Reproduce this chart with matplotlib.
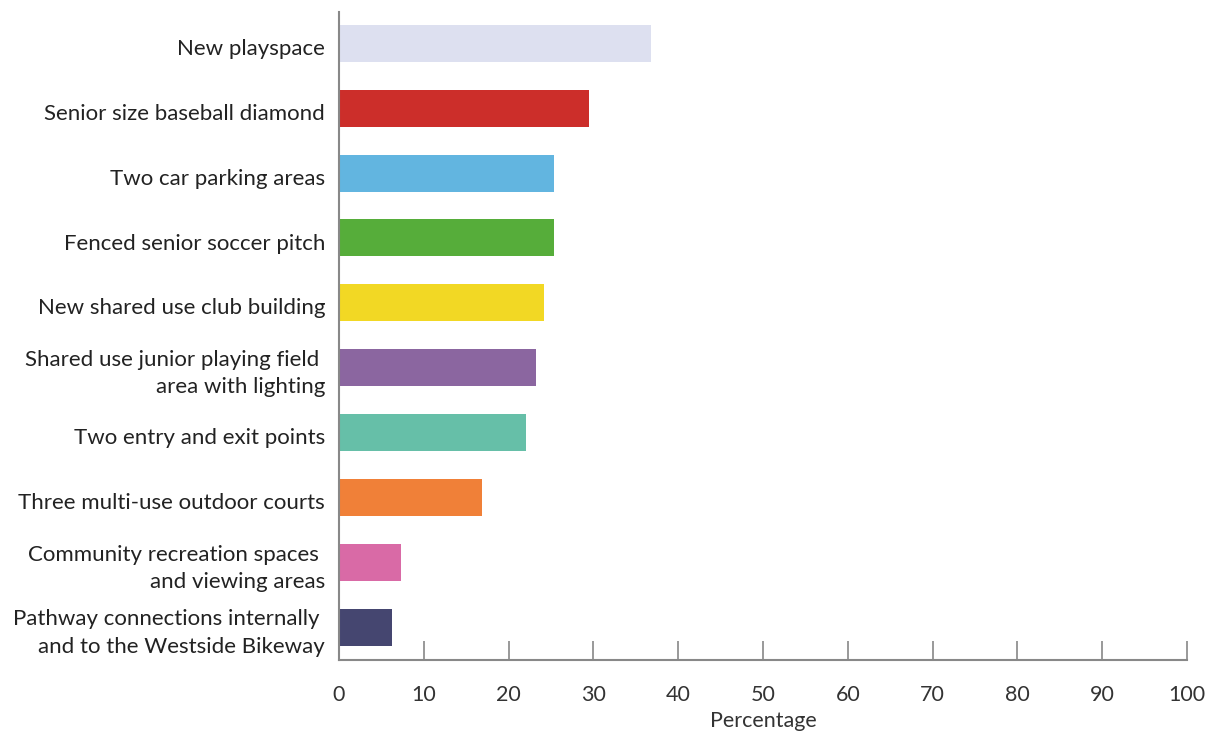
import matplotlib
matplotlib.use("Agg")
import matplotlib.pyplot as plt

categories = [
    "New playspace",
    "Senior size baseball diamond",
    "Two car parking areas",
    "Fenced senior soccer pitch",
    "New shared use club building",
    "Shared use junior playing field \narea with lighting",
    "Two entry and exit points",
    "Three multi-use outdoor courts",
    "Community recreation spaces \nand viewing areas",
    "Pathway connections internally \nand to the Westside Bikeway",
]
values = [36.8, 29.5, 25.3, 25.3, 24.2, 23.2, 22.1, 16.9, 7.3, 6.3]
colors = ["#dde0f0", "#cc2e2a", "#62b5e0", "#56ad3a", "#f2d824",
          "#8b66a0", "#66bfa8", "#f08038", "#d96aa6", "#454670"]
xticks = [0, 10, 20, 30, 40, 50, 60, 70, 80, 90, 100]

plt.rcParams['font.family'] = ['Lato', 'DejaVu Sans']

fig = plt.figure(figsize=(12.18, 7.32), dpi=100)
ax = fig.add_axes([339/1218, 1 - 660/732, (1187-339)/1218, (660-12)/732])

y = list(range(len(categories)))
ax.barh(y, values, height=0.57, color=colors)
ax.set_ylim(len(categories) - 0.5, -0.48)
ax.set_xlim(0, 100)
ax.set_yticks(y)
ax.set_yticklabels([])
for yi, cat in zip(y, categories):
    ax.annotate(cat, xy=(0, yi), xycoords=("axes fraction", "data"),
                xytext=(-10, -4), textcoords="offset points",
                ha="right", va="center", fontsize=16, color="#222222",
                linespacing=1.45, annotation_clip=False)
ax.set_xticks(xticks)
ax.set_xticklabels([str(t) for t in xticks], fontsize=15.5, color="#333333")
ax.tick_params(axis="y", length=0)
ax.tick_params(axis="x", direction="in", length=14, width=1.2, color="#888888", pad=18)
for s in ["top", "right"]:
    ax.spines[s].set_visible(False)
for s in ["left", "bottom"]:
    ax.spines[s].set_color("#888888")
    ax.spines[s].set_linewidth(1.5)
ax.set_xlabel("Percentage", fontsize=15.5, color="#333333", labelpad=4)

fig.savefig("out.png", dpi=100, facecolor="white")
